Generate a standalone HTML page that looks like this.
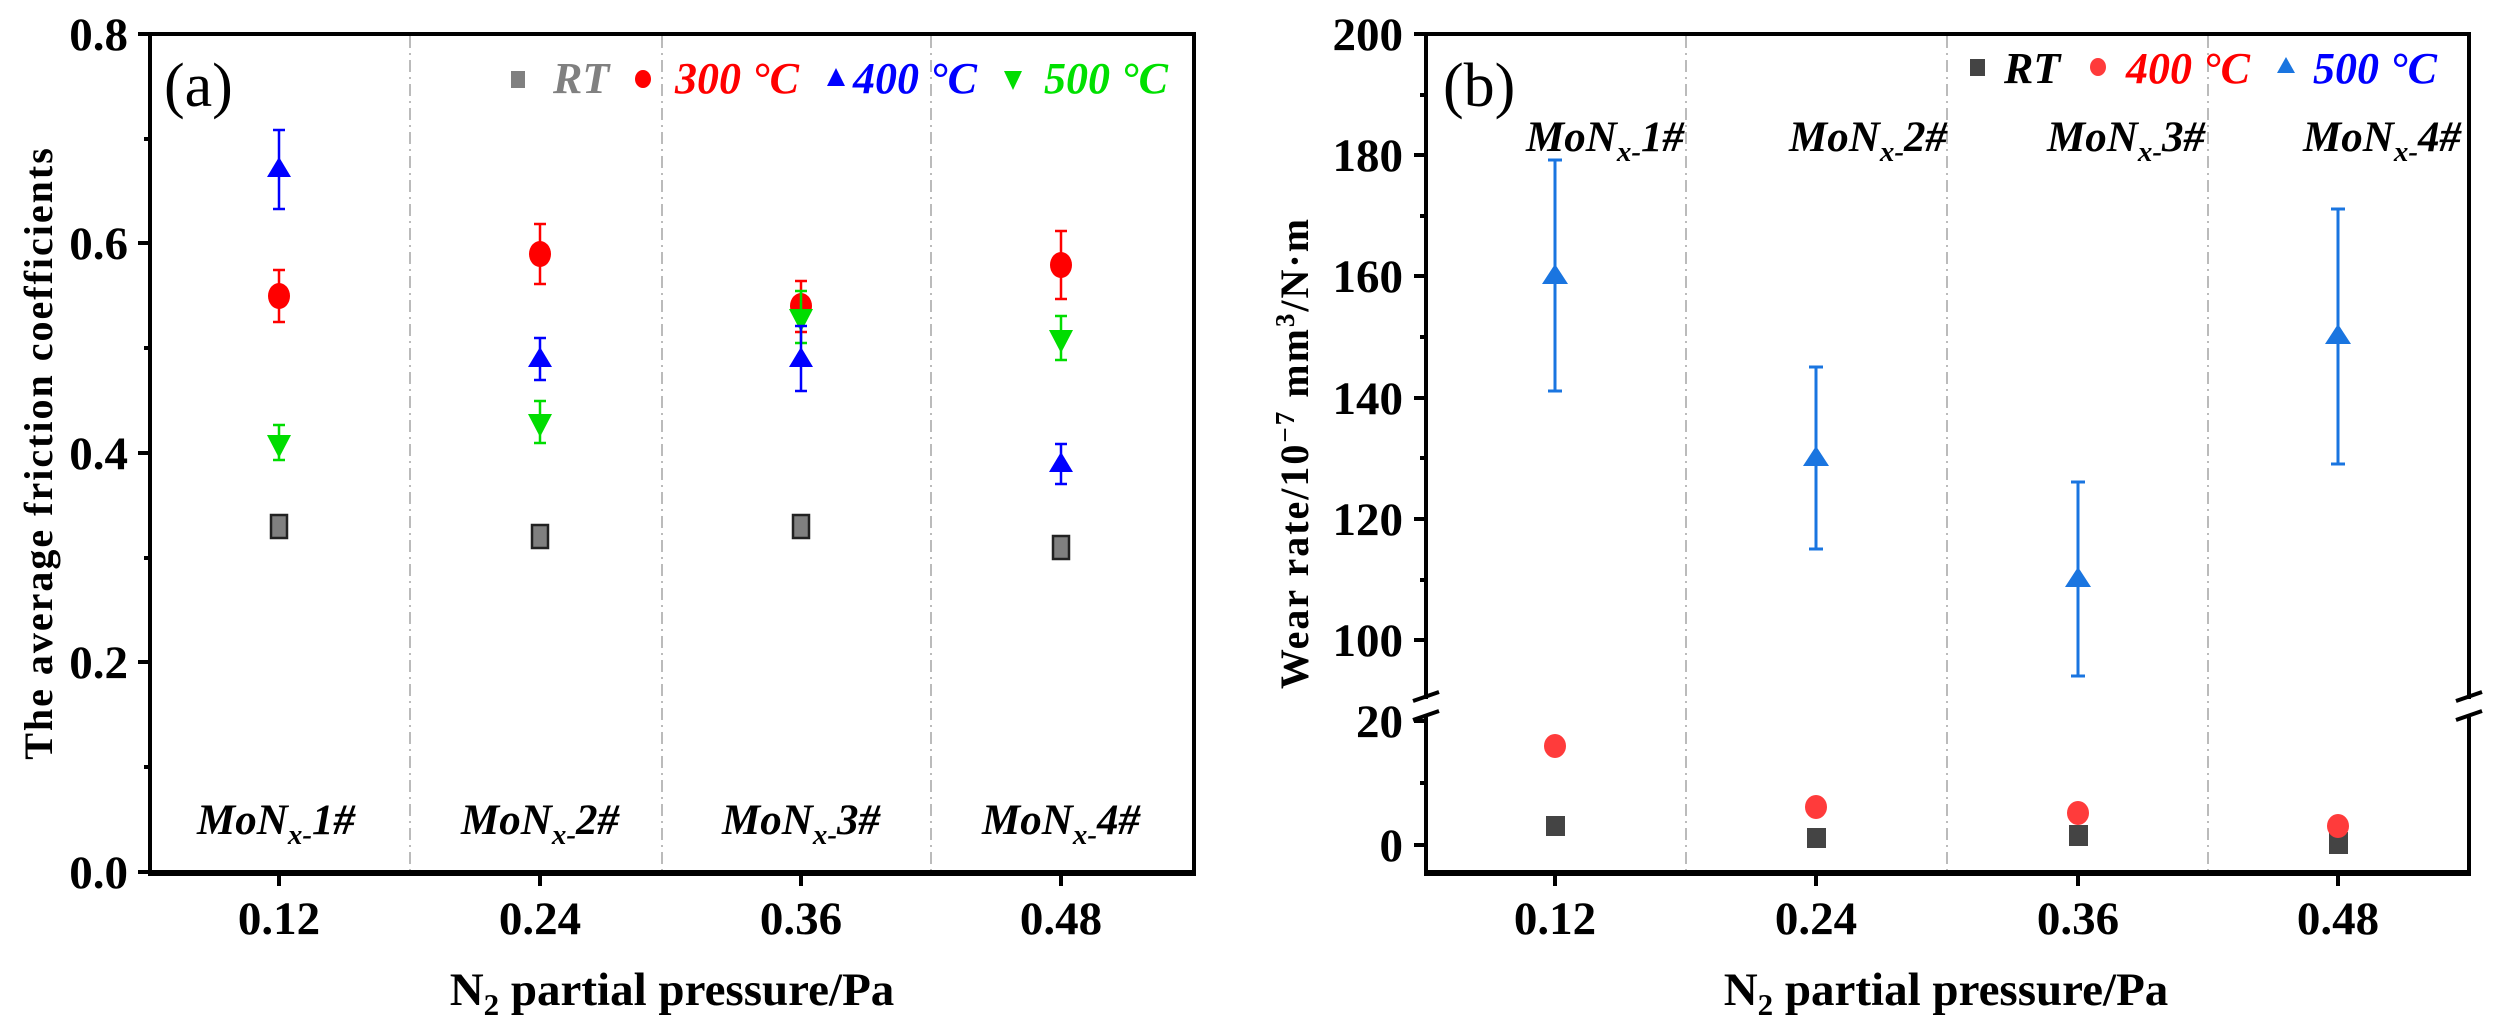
<!DOCTYPE html>
<html><head><meta charset="utf-8"><style>
html,body{margin:0;padding:0;background:#fff;}
svg{display:block;}
text{font-family:"Liberation Serif",serif;}
</style></head><body>
<svg width="2499" height="1036" viewBox="0 0 2499 1036" xmlns="http://www.w3.org/2000/svg">
<!-- ================= PANEL A ================= -->
<g stroke="#bbb" stroke-width="2" stroke-dasharray="12,5,2,5">
<line x1="410" y1="36" x2="410" y2="870"/>
<line x1="662" y1="36" x2="662" y2="870"/>
<line x1="931" y1="36" x2="931" y2="870"/>
</g>
<rect x="150" y="34" width="1044" height="838" fill="none" stroke="#000" stroke-width="4"/>
<line x1="148" y1="873" x2="1196" y2="873" stroke="#000" stroke-width="6"/>
<g stroke="#000" stroke-width="4">
<line x1="138" y1="34" x2="150" y2="34"/><line x1="138" y1="243" x2="150" y2="243"/>
<line x1="138" y1="453" x2="150" y2="453"/><line x1="138" y1="662" x2="150" y2="662"/>
<line x1="138" y1="872" x2="150" y2="872"/>
<line x1="144" y1="139" x2="150" y2="139"/><line x1="144" y1="348" x2="150" y2="348"/>
<line x1="144" y1="558" x2="150" y2="558"/><line x1="144" y1="767" x2="150" y2="767"/>
<line x1="279" y1="872" x2="279" y2="886"/><line x1="540" y1="872" x2="540" y2="886"/>
<line x1="801" y1="872" x2="801" y2="886"/><line x1="1061" y1="872" x2="1061" y2="886"/>
</g>
<g font-size="47" font-weight="bold" text-anchor="end">
<text x="128" y="50">0.8</text><text x="128" y="259">0.6</text><text x="128" y="469">0.4</text>
<text x="128" y="678">0.2</text><text x="128" y="888">0.0</text>
</g>
<g font-size="47" font-weight="bold" text-anchor="middle">
<text x="279" y="934">0.12</text><text x="540" y="934">0.24</text><text x="801" y="934">0.36</text><text x="1061" y="934">0.48</text>
<text x="672" y="1005">N<tspan font-size="31" dy="10">2</tspan><tspan dy="-10"> partial pressure/Pa</tspan></text>
</g>
<text transform="translate(52,453) rotate(-90)" font-size="40" font-weight="bold" text-anchor="middle" letter-spacing="2">The average friction coefficients</text>
<text x="164" y="106" font-size="62">(a)</text>
<g font-size="43" font-weight="bold" font-style="italic" text-anchor="middle">
<text x="276" y="834">MoN<tspan font-size="29" dy="10">x-</tspan><tspan dy="-10">1#</tspan></text>
<text x="540" y="834">MoN<tspan font-size="29" dy="10">x-</tspan><tspan dy="-10">2#</tspan></text>
<text x="801" y="834">MoN<tspan font-size="29" dy="10">x-</tspan><tspan dy="-10">3#</tspan></text>
<text x="1061" y="834">MoN<tspan font-size="29" dy="10">x-</tspan><tspan dy="-10">4#</tspan></text>
</g>
<rect x="511" y="71" width="14" height="17" fill="#808080"/>
<text x="553" y="93" font-size="44" font-weight="bold" font-style="italic" fill="#808080">RT</text>
<ellipse cx="643" cy="79" rx="8" ry="9" fill="#f00"/>
<text x="675" y="93" font-size="44" font-weight="bold" font-style="italic" fill="#f00">300 °C</text>
<polygon points="836,68 827,86 845,86" fill="#00f"/>
<text x="853" y="93" font-size="44" font-weight="bold" font-style="italic" fill="#00f">400 °C</text>
<polygon points="1004,71 1022,71 1013,90" fill="#0d0"/>
<text x="1044" y="93" font-size="44" font-weight="bold" font-style="italic" fill="#00e000">500 °C</text>
<g stroke-width="2.5">
<g stroke="#222" fill="#808080">
<path d="M273 516h12M279 516v20M273 536h12"/><rect x="271" y="515" width="16" height="23"/>
<path d="M534 527h12M540 527v20M534 547h12"/><rect x="532" y="525" width="16" height="23"/>
<path d="M795 516h12M801 516v20M795 536h12"/><rect x="793" y="515" width="16" height="23"/>
<path d="M1055 537h12M1061 537v20M1055 557h12"/><rect x="1053" y="536" width="16" height="23"/>
</g>
<g stroke="#f00" fill="none">
<path d="M273 270h12M279 270v52M273 322h12"/>
<path d="M534 224h12M540 224v60M534 284h12"/>
<path d="M795 281h12M801 281v51M795 332h12"/>
<path d="M1055 231h12M1061 231v68M1055 299h12"/>
</g>
<g fill="#f00">
<ellipse cx="279" cy="296" rx="11" ry="13"/><ellipse cx="540" cy="254" rx="11" ry="13"/>
<ellipse cx="801" cy="306" rx="11" ry="13"/><ellipse cx="1061" cy="265" rx="11" ry="13"/>
</g>
<g stroke="#0d0" fill="none">
<path d="M273 425h12M279 425v35M273 460h12"/>
<path d="M534 401h12M540 401v42M534 443h12"/>
<path d="M795 291h12M801 291v52M795 343h12"/>
<path d="M1055 316h12M1061 316v44M1055 360h12"/>
</g>
<g fill="#0d0">
<polygon points="267,435 291,435 279,458"/><polygon points="528,414 552,414 540,437"/>
<polygon points="789,309 813,309 801,332"/><polygon points="1049,330 1073,330 1061,353"/>
</g>
<g stroke="#00f" fill="none">
<path d="M273 130h12M279 130v79M273 209h12"/>
<path d="M534 338h12M540 338v42M534 380h12"/>
<path d="M795 326h12M801 326v65M795 391h12"/>
<path d="M1055 444h12M1061 444v40M1055 484h12"/>
</g>
<g fill="#00f">
<polygon points="279,157 267,177 291,177"/><polygon points="540,347 528,367 552,367"/>
<polygon points="801,347 789,367 813,367"/><polygon points="1061,452 1049,472 1073,472"/>
</g>
</g>

<!-- ================= PANEL B ================= -->
<g stroke="#bbb" stroke-width="2" stroke-dasharray="12,5,2,5">
<line x1="1686" y1="36" x2="1686" y2="870"/>
<line x1="1947" y1="36" x2="1947" y2="870"/>
<line x1="2208" y1="36" x2="2208" y2="870"/>
</g>
<g stroke="#000" stroke-width="4" fill="none">
<line x1="1426" y1="34" x2="2469" y2="34"/>
<line x1="1426" y1="32" x2="1426" y2="699"/>
<line x1="1426" y1="717" x2="1426" y2="874"/>
<line x1="2469" y1="32" x2="2469" y2="699"/>
<line x1="2469" y1="717" x2="2469" y2="874"/>
<line x1="1413" y1="701" x2="1439" y2="692"/><line x1="1413" y1="720" x2="1439" y2="711"/>
<line x1="2456" y1="701" x2="2482" y2="692"/><line x1="2456" y1="720" x2="2482" y2="711"/>
</g>
<line x1="1424" y1="873" x2="2471" y2="873" stroke="#000" stroke-width="6"/>
<g stroke="#000" stroke-width="4">
<line x1="1414" y1="34" x2="1426" y2="34"/><line x1="1414" y1="155" x2="1426" y2="155"/>
<line x1="1414" y1="276" x2="1426" y2="276"/><line x1="1414" y1="398" x2="1426" y2="398"/>
<line x1="1414" y1="519" x2="1426" y2="519"/><line x1="1414" y1="640" x2="1426" y2="640"/>
<line x1="1420" y1="95" x2="1426" y2="95"/><line x1="1420" y1="216" x2="1426" y2="216"/>
<line x1="1420" y1="337" x2="1426" y2="337"/><line x1="1420" y1="458" x2="1426" y2="458"/>
<line x1="1420" y1="580" x2="1426" y2="580"/>
<line x1="1414" y1="721" x2="1426" y2="721"/><line x1="1414" y1="845" x2="1426" y2="845"/>
<line x1="1420" y1="783" x2="1426" y2="783"/>
<line x1="1555" y1="872" x2="1555" y2="886"/><line x1="1816" y1="872" x2="1816" y2="886"/>
<line x1="2078" y1="872" x2="2078" y2="886"/><line x1="2338" y1="872" x2="2338" y2="886"/>
</g>
<g font-size="47" font-weight="bold" text-anchor="end">
<text x="1403" y="50">200</text><text x="1403" y="171">180</text><text x="1403" y="292">160</text>
<text x="1403" y="414">140</text><text x="1403" y="535">120</text><text x="1403" y="656">100</text>
<text x="1403" y="737">20</text><text x="1403" y="861">0</text>
</g>
<g font-size="47" font-weight="bold" text-anchor="middle">
<text x="1555" y="934">0.12</text><text x="1816" y="934">0.24</text><text x="2078" y="934">0.36</text><text x="2338" y="934">0.48</text>
<text x="1946" y="1005">N<tspan font-size="31" dy="10">2</tspan><tspan dy="-10"> partial pressure/Pa</tspan></text>
</g>
<text transform="translate(1308,453) rotate(-90)" font-size="40" font-weight="bold" text-anchor="middle" letter-spacing="2">Wear rate/10<tspan font-size="27" dy="-14">−7</tspan><tspan dy="14"> mm</tspan><tspan font-size="27" dy="-14">3</tspan><tspan dy="14">/N·m</tspan></text>
<text x="1443" y="106" font-size="62">(b)</text>
<g font-size="43" font-weight="bold" font-style="italic" text-anchor="middle">
<text x="1605" y="151">MoN<tspan font-size="29" dy="10">x-</tspan><tspan dy="-10">1#</tspan></text>
<text x="1868" y="151">MoN<tspan font-size="29" dy="10">x-</tspan><tspan dy="-10">2#</tspan></text>
<text x="2126" y="151">MoN<tspan font-size="29" dy="10">x-</tspan><tspan dy="-10">3#</tspan></text>
<text x="2382" y="151">MoN<tspan font-size="29" dy="10">x-</tspan><tspan dy="-10">4#</tspan></text>
</g>
<rect x="1970" y="59" width="15" height="17" fill="#444"/>
<text x="2004" y="83" font-size="44" font-weight="bold" font-style="italic" fill="#000">RT</text>
<ellipse cx="2098" cy="67" rx="8" ry="9" fill="#ff3b3b"/>
<text x="2126" y="83" font-size="44" font-weight="bold" font-style="italic" fill="#f00">400 °C</text>
<polygon points="2286,57 2277,73 2295,73" fill="#1a75e0"/>
<text x="2313" y="83" font-size="44" font-weight="bold" font-style="italic" fill="#00f">500 °C</text>
<g stroke="#1a75e0" stroke-width="3" fill="none">
<path d="M1548 160h14M1555 160v231M1548 391h14"/>
<path d="M1809 367h14M1816 367v182M1809 549h14"/>
<path d="M2071 482h14M2078 482v194M2071 676h14"/>
<path d="M2331 209h14M2338 209v255M2331 464h14"/>
</g>
<g fill="#1a75e0">
<polygon points="1555,264 1542,284 1568,284"/><polygon points="1816,446 1803,466 1829,466"/>
<polygon points="2078,567 2065,587 2091,587"/><polygon points="2338,324 2325,344 2351,344"/>
</g>
<g fill="#444">
<rect x="1546" y="816" width="19" height="20"/><rect x="1807" y="828" width="19" height="20"/>
<rect x="2069" y="825" width="19" height="21"/><rect x="2329" y="832" width="19" height="22"/>
</g>
<g fill="#ff3b3b">
<ellipse cx="1555" cy="746" rx="11" ry="12"/><ellipse cx="1816" cy="807" rx="11" ry="12"/>
<ellipse cx="2078" cy="813" rx="11" ry="12"/><ellipse cx="2338" cy="826" rx="11" ry="12"/>
</g>
</svg>
</body></html>
